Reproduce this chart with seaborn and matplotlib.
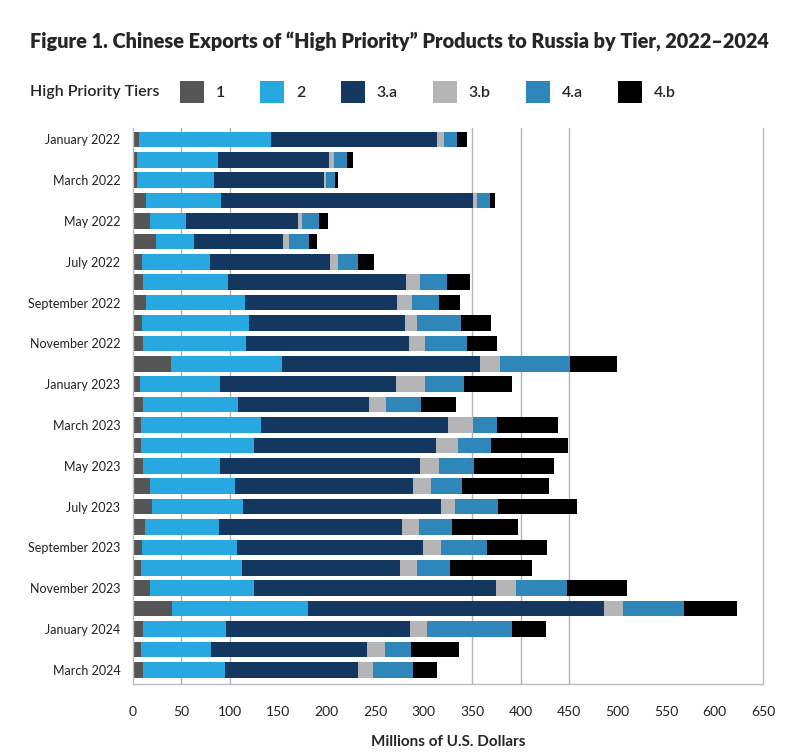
import pandas as pd
import numpy as np
import matplotlib.pyplot as plt
import seaborn as sns
from matplotlib.patches import Patch

months = ["January 2022", "February 2022", "March 2022", "April 2022", "May 2022", "June 2022",
          "July 2022", "August 2022", "September 2022", "October 2022", "November 2022", "December 2022",
          "January 2023", "February 2023", "March 2023", "April 2023", "May 2023", "June 2023",
          "July 2023", "August 2023", "September 2023", "October 2023", "November 2023", "December 2023",
          "January 2024", "February 2024", "March 2024"]

# millions of USD per tier
tier_1 = [6, 4, 4, 14, 18, 24, 10, 11, 13.4, 9, 10.7, 39, 7.2, 10.3, 8.7, 8, 10.3, 17.3,
          19.3, 12.1, 9, 8, 17.3, 40.3, 11, 8.3, 11]
tier_2 = [137, 84, 79.5, 76.5, 37, 39, 69.3, 87, 102, 110.6, 105.8, 114.8, 82.5, 98, 123.7, 116.8, 79.4, 87.9,
          94.1, 76.5, 98.2, 104.4, 107.5, 140, 84.9, 72.1, 83.8]
tier_3a = [171, 114, 114, 260, 115.5, 92, 124, 184, 157, 160.7, 168.6, 204.7, 182, 135.4, 193, 188.2, 206.8, 184,
           204.8, 189.3, 192.4, 162.7, 249.2, 305.4, 190.2, 161.3, 137.6]
tier_3b = [6.5, 5, 1.5, 4.5, 4, 6, 8.3, 14.5, 15.5, 12.4, 16.6, 19.7, 30, 17.6, 24.9, 22.8, 19.3, 18.6,
           14.5, 17.6, 18.6, 18.3, 20.7, 19.7, 17.6, 18.6, 15.5]
tier_4a = [14, 13.5, 9.5, 13.5, 18, 20.7, 20.7, 27, 27.6, 46.2, 43.4, 72.4, 40.3, 36.2, 25.1, 33.1, 36.5, 32.1,
           43.4, 33.8, 46.5, 34.1, 52.8, 63.1, 86.9, 26.2, 41.3]
tier_4b = [10, 7, 2.7, 5, 8.7, 8.3, 16.2, 24.5, 21.7, 30, 30.7, 48.3, 48.6, 35.9, 62.8, 80.3, 81.7, 89,
           81.7, 67.5, 62.1, 84.5, 61.7, 54.5, 35.9, 50, 24.5]

tiers = ["1", "2", "3.a", "3.b", "4.a", "4.b"]
colors = ["#555555", "#27a8e0", "#13375f", "#b5b5b7", "#2e86b9", "#000000"]

df = pd.DataFrame({"month": months, "1": tier_1, "2": tier_2, "3.a": tier_3a,
                   "3.b": tier_3b, "4.a": tier_4a, "4.b": tier_4b})
cum = df[tiers].cumsum(axis=1)
cum["month"] = df["month"]

sns.set_style("white")
plt.rcParams['font.family'] = ['Lato', 'DejaVu Sans']

fig = plt.figure(figsize=(8, 7.54), dpi=100)
ax = fig.add_axes([0.166, 0.093, 0.788, 0.737])

# stacked bars: draw running totals from the largest down
for tier, col in reversed(list(zip(tiers, colors))):
    sns.barplot(data=cum, x=tier, y="month", orient="h", color=col, width=0.76,
                saturation=1, ax=ax, linewidth=0, order=months)

for xv in [50, 100, 350, 400, 450]:
    ax.axvline(xv, color="#b3b3b3", lw=1, zorder=0)

ax.set_xlim(0, 650)
ax.set_ylim(26.69, -0.55)
ax.set_xticks(range(0, 651, 50))
ax.set_xticklabels([str(v) for v in range(0, 651, 50)], fontsize=10, color="#222222")
ax.set_yticks(range(0, 27, 2))
ax.set_yticklabels(months[::2], fontsize=9, color="#222222")
ax.tick_params(axis="both", length=0)
ax.tick_params(axis="x", pad=16)
ax.tick_params(axis="y", pad=9)
ax.set_ylabel("")
ax.set_xlabel("Millions of U.S. Dollars", fontsize=11, fontweight="bold", labelpad=12)

for side in ["left", "bottom", "right"]:
    ax.spines[side].set_color("#bdbdbd")
    ax.spines[side].set_linewidth(1)
ax.spines["top"].set_visible(False)

fig.text(0.499, 0.944, "Figure 1. Chinese Exports of \u201cHigh Priority\u201d Products to Russia by Tier, 2022\u20132024",
         ha="center", va="center", fontsize=14.3, fontweight="heavy")

fig.text(0.037, 0.878, "High Priority Tiers", ha="left", va="center", fontsize=11.5, fontweight="semibold")

handles = [Patch(facecolor=c, edgecolor="none", label=t) for t, c in zip(tiers, colors)]
fig.legend(handles=handles, loc="center left", bbox_to_anchor=(0.207, 0.878), ncol=6,
           frameon=False, handlelength=1.5, handleheight=1.8,
           handletextpad=0.75, columnspacing=2.2,
           prop={"size": 11.5, "weight": "semibold"})

plt.savefig("out.png", dpi=100)
